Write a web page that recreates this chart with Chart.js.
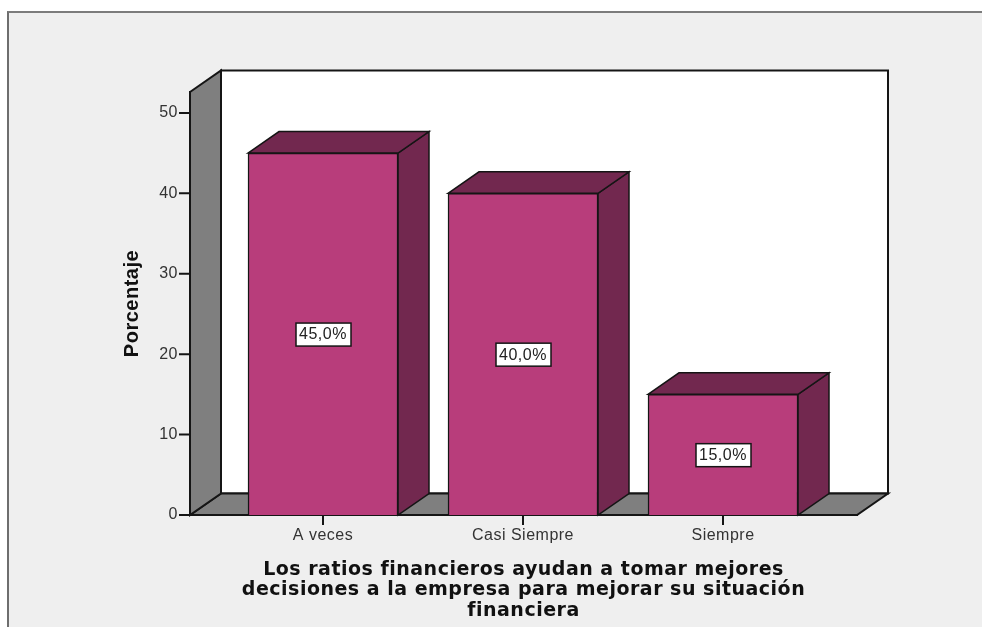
<!DOCTYPE html>
<html>
<head>
<meta charset="utf-8">
<style>
  html, body { margin: 0; background: #fff; overflow: hidden; }
  #frame { position: absolute; left: 7px; top: 11px; width: 975px; height: 616px;
           box-sizing: border-box; background: #efefef;
           border-left: 2px solid #6e6e6e; border-top: 2px solid #7c7c7c; }
  #wrap { position: absolute; left: 0; top: 0; width: 982px; height: 627px; }
</style>
</head>
<body>
<div id="frame"></div>
<div id="wrap"><canvas id="chart"></canvas></div>
<script src="https://cdn.jsdelivr.net/npm/chart.js@4"></script>
<script>
const CATEGORIES = ['A veces', 'Casi Siempre', 'Siempre'];
const PERCENTAGES = [45, 40, 15];
const BAR_LABELS = ['45,0%', '40,0%', '15,0%'];
const Y_TICKS = [0, 10, 20, 30, 40, 50];
const X_TITLE = [
  'Los ratios financieros ayudan a tomar mejores',
  'decisiones a la empresa para mejorar su situación',
  'financiera'
];
const Y_TITLE = 'Porcentaje';

// depth of the fake 3D box
const DX = 31, DY = 21.5;
const LINE = '#151515';

function poly(ctx, pts, fill, width) {
  ctx.beginPath();
  pts.forEach((p, i) => i ? ctx.lineTo(p[0], p[1]) : ctx.moveTo(p[0], p[1]));
  ctx.closePath();
  if (fill) { ctx.fillStyle = fill; ctx.fill(); }
  ctx.lineWidth = width;
  ctx.strokeStyle = LINE;
  ctx.lineJoin = 'miter';
  ctx.stroke();
}

const box3d = {
  id: 'box3d',
  beforeDraw(chart) {
    chart.ctx.letterSpacing = '0.5px';
  },
  beforeDatasetsDraw(chart) {
    const ctx = chart.ctx, a = chart.chartArea;
    ctx.save();
    // back wall, floor, left wall
    poly(ctx, [[a.left + DX, a.top - DY], [a.right + DX, a.top - DY],
               [a.right + DX, a.bottom - DY], [a.left + DX, a.bottom - DY]], '#ffffff', 2);
    poly(ctx, [[a.left, a.bottom], [a.right, a.bottom],
               [a.right + DX, a.bottom - DY], [a.left + DX, a.bottom - DY]], '#7f7f7f', 2);
    poly(ctx, [[a.left, a.top], [a.left + DX, a.top - DY],
               [a.left + DX, a.bottom - DY], [a.left, a.bottom]], '#7f7f7f', 2);
    // sides and tops of the bars
    chart.getDatasetMeta(0).data.forEach(bar => {
      const l = bar.x - bar.width / 2, r = bar.x + bar.width / 2, t = bar.y, b = bar.base;
      poly(ctx, [[r, t], [r + DX, t - DY], [r + DX, b - DY], [r, b]], '#72284f', 1.5);
      poly(ctx, [[l, t], [l + DX, t - DY], [r + DX, t - DY], [r, t]], '#72284f', 1.5);
    });
    ctx.restore();
  },
  afterDatasetsDraw(chart) {
    const ctx = chart.ctx;
    ctx.save();
    ctx.font = '16px "Liberation Sans"';
    ctx.textAlign = 'center';
    ctx.textBaseline = 'middle';
    chart.getDatasetMeta(0).data.forEach((bar, i) => {
      const cy = (bar.y + bar.base) / 2;
      ctx.fillStyle = '#ffffff';
      ctx.fillRect(bar.x - 27, cy - 11, 55, 23);
      ctx.strokeStyle = LINE;
      ctx.lineWidth = 1.5;
      ctx.strokeRect(bar.x - 27, cy - 11, 55, 23);
      ctx.fillStyle = '#222222';
      ctx.fillText(BAR_LABELS[i], bar.x, cy + 1);
    });
    ctx.restore();
  }
};

new Chart(document.getElementById('chart'), {
  type: 'bar',
  data: {
    datasets: [{
      data: PERCENTAGES.map((v, i) => ({ x: i, y: v })),
      backgroundColor: '#b83d7b',
      borderColor: LINE,
      borderWidth: 1.5,
      barThickness: 150
    }]
  },
  options: {
    responsive: true,
    maintainAspectRatio: false,
    animation: false,
    layout: { padding: { left: 120, top: 92, right: 125, bottom: 0 } },
    plugins: { legend: { display: false }, tooltip: { enabled: false } },
    scales: {
      x: {
        type: 'linear',
        offset: false,
        min: -0.665,
        max: 2.67,
        afterBuildTicks: s => { s.ticks = CATEGORIES.map((c, i) => ({ value: i })); },
        afterFit: s => { s.height = 112; },
        grid: { display: false, drawTicks: true, tickLength: 10 },
        border: { display: true, color: LINE, width: 2 },
        ticks: {
          color: '#333333',
          font: { family: '"Liberation Sans"', size: 16 },
          padding: 1,
          maxRotation: 0,
          callback: v => CATEGORIES[v]
        },
        title: {
          display: true,
          text: X_TITLE,
          color: '#111111',
          font: { family: '"DejaVu Sans"', size: 19, weight: 'bold', lineHeight: 1.08 },
          padding: { top: 2, bottom: 6 }
        }
      },
      y: {
        min: 0,
        max: 52.6,
        afterBuildTicks: s => { s.ticks = Y_TICKS.map(v => ({ value: v })); },
        afterFit: s => { s.width = 70; },
        grid: { display: false },
        border: { display: true, color: LINE, width: 2 },
        ticks: {
          color: '#333333',
          font: { family: '"Liberation Sans"', size: 16 },
          padding: 4
        },
        title: {
          display: true,
          text: Y_TITLE,
          color: '#111111',
          font: { family: '"Liberation Sans"', size: 20, weight: 'bold' },
          padding: 0
        }
      }
    }
  },
  plugins: [box3d, {
    // axis ticks sit outside the chart area and are drawn by hand so they stay black without gridlines
    id: 'axisTicks',
    afterDatasetsDraw(chart) {
      const ctx = chart.ctx, a = chart.chartArea;
      ctx.save();
      ctx.strokeStyle = LINE;
      ctx.lineWidth = 2;
      ctx.beginPath();
      chart.scales.y.ticks.forEach(t => {
        const y = chart.scales.y.getPixelForValue(t.value);
        ctx.moveTo(a.left - 11, y); ctx.lineTo(a.left, y);
      });
      chart.scales.x.ticks.forEach(t => {
        const x = chart.scales.x.getPixelForValue(t.value);
        ctx.moveTo(x, a.bottom); ctx.lineTo(x, a.bottom + 10);
      });
      ctx.stroke();
      ctx.restore();
    }
  }]
});
</script>
</body>
</html>
